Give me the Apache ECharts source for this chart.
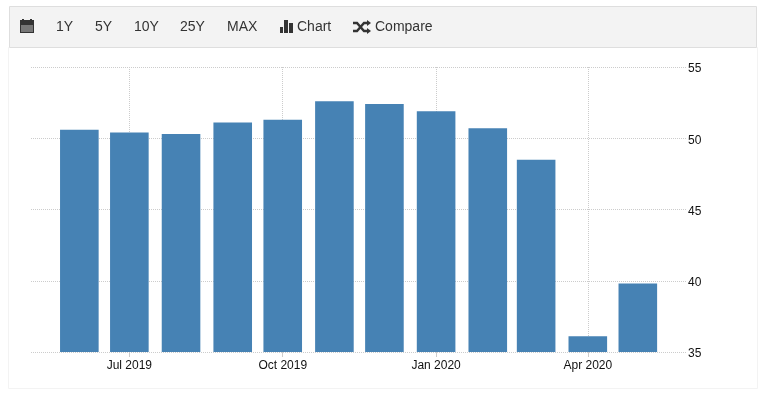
<!DOCTYPE html>
<html>
<head>
<meta charset="utf-8">
<style>
html, body { margin: 0; padding: 0; background: #fff; }
#chart { width: 762px; height: 394px; }
</style>
<script src="https://cdn.jsdelivr.net/npm/echarts@6/dist/echarts.min.js"></script>
</head>
<body>
<div id="chart"></div>
<script>
var months = ['2019-06-01', '2019-07-01', '2019-08-01', '2019-09-01', '2019-10-01', '2019-11-01',
  '2019-12-01', '2020-01-01', '2020-02-01', '2020-03-01', '2020-04-01', '2020-05-01'];
var values = [50.6, 50.4, 50.3, 51.1, 51.3, 52.6, 52.4, 51.9, 50.7, 48.5, 36.1, 39.8];
var xTicks = ['2019-07-01', '2019-10-01', '2020-01-01', '2020-04-01'];
var xTickLabels = ['Jul 2019', 'Oct 2019', 'Jan 2020', 'Apr 2020'];
var rangeButtons = ['1Y', '5Y', '10Y', '25Y', 'MAX'];
var rangeButtonX = [56, 95, 134, 180, 227];

function ts(s) { return new Date(s + 'T00:00:00Z').getTime(); }

var gridLine = { color: '#cccccc', width: 1, type: [1, 1] };
var toolbarText = { fill: '#333', font: '14px "Liberation Sans", Arial, sans-serif', textVerticalAlign: 'middle' };

var toolbar = [
  { type: 'rect', shape: { x: 8.5, y: 47.5, width: 749, height: 341 }, style: { fill: '#fff', stroke: '#f3f3f3' }, z: -1 },
  { type: 'rect', shape: { x: 9.5, y: 6.5, width: 747, height: 41 }, style: { fill: '#f3f3f3', stroke: '#dedede', lineWidth: 1 } },
  // calendar icon
  { type: 'rect', shape: { x: 20, y: 20, width: 14, height: 13 }, style: { fill: '#333' } },
  { type: 'rect', shape: { x: 21, y: 25, width: 12, height: 7 }, style: { fill: '#777' } },
  { type: 'rect', shape: { x: 22, y: 19, width: 2, height: 2 }, style: { fill: '#333' } },
  { type: 'rect', shape: { x: 30, y: 19, width: 2, height: 2 }, style: { fill: '#333' } },
  // bar icon
  { type: 'rect', shape: { x: 280, y: 27, width: 3, height: 6 }, style: { fill: '#333' } },
  { type: 'rect', shape: { x: 284, y: 20, width: 4, height: 13 }, style: { fill: '#333' } },
  { type: 'rect', shape: { x: 289, y: 23, width: 4, height: 10 }, style: { fill: '#333' } },
  { type: 'text', x: 297, y: 27, style: Object.assign({ text: 'Chart' }, toolbarText) },
  // shuffle icon
  { type: 'polyline', shape: { points: [[353, 23], [357, 23], [364, 31], [368, 31]] }, style: { stroke: '#333', fill: null, lineWidth: 2.4 } },
  { type: 'polyline', shape: { points: [[353, 31], [357, 31], [364, 23], [368, 23]] }, style: { stroke: '#333', fill: null, lineWidth: 2.4 } },
  { type: 'polygon', shape: { points: [[367, 20], [371, 23], [367, 26]] }, style: { fill: '#333' } },
  { type: 'polygon', shape: { points: [[367, 28], [371, 31], [367, 34]] }, style: { fill: '#333' } },
  { type: 'text', x: 375, y: 27, style: Object.assign({ text: 'Compare' }, toolbarText) }
];
rangeButtons.forEach(function (b, i) {
  toolbar.push({ type: 'text', x: rangeButtonX[i], y: 27, style: Object.assign({ text: b }, toolbarText) });
});

var myChart = echarts.init(document.getElementById('chart'), null, { renderer: 'canvas' });
myChart.setOption({
  animation: false,
  graphic: toolbar,
  grid: { left: 31, right: 75, top: 67, bottom: 42 },
  xAxis: {
    type: 'value',
    min: ts('2019-05-03'),
    max: new Date('2020-05-30T12:00:00Z').getTime(),
    axisLine: { show: false },
    axisTick: { show: true, length: 5, lineStyle: { color: '#ccc' }, customValues: xTicks.map(ts) },
    axisLabel: {
      margin: 8,
      color: '#111',
      fontFamily: '"Liberation Sans", Arial, sans-serif',
      fontSize: 12,
      customValues: xTicks.map(ts),
      formatter: function (v) { return xTickLabels[xTicks.map(ts).indexOf(v)]; }
    },
    splitLine: { show: true, lineStyle: gridLine }
  },
  yAxis: {
    type: 'value',
    position: 'right',
    min: 35,
    max: 55,
    interval: 5,
    axisLine: { show: false },
    axisTick: { show: false },
    axisLabel: {
      margin: 1,
      color: '#111',
      fontFamily: '"Liberation Sans", Arial, sans-serif',
      fontSize: 12,
      formatter: '{v|{value}}',
      rich: { v: { color: '#111', fontFamily: '"Liberation Sans", Arial, sans-serif', fontSize: 12, padding: [4, 0, 0, 0] } }
    },
    splitLine: { show: true, lineStyle: gridLine }
  },
  series: [{
    type: 'bar',
    barWidth: 38.6,
    itemStyle: { color: '#4682b4' },
    data: months.map(function (m, i) { return [ts(m), values[i]]; })
  }]
});
window.addEventListener('resize', function () { myChart.resize(); });
</script>
</body>
</html>
